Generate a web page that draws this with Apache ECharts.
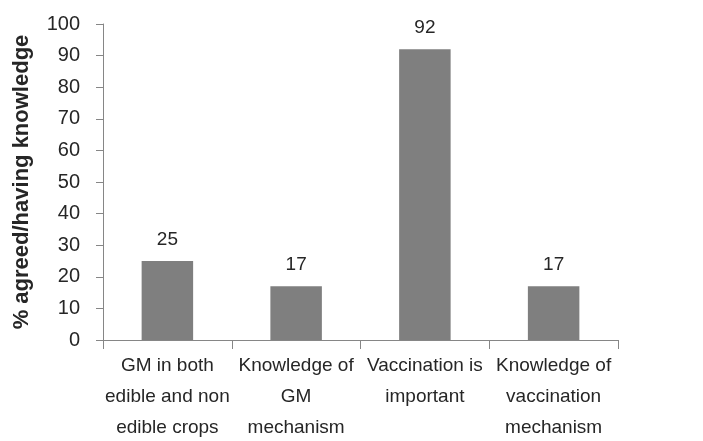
<!DOCTYPE html>
<html>
<head>
<meta charset="utf-8">
<script src="https://cdn.jsdelivr.net/npm/echarts@6/dist/echarts.min.js"></script>
<style>
  html, body { margin: 0; padding: 0; background: #fff; }
  #chart { width: 703px; height: 441px; }
</style>
</head>
<body>
<div id="chart"></div>
<script>
const categories = [
    'GM in both\nedible and non\nedible crops',
    'Knowledge of\nGM\nmechanism',
    'Vaccination is\nimportant',
    'Knowledge of\nvaccination\nmechanism'
];
const values = [25, 17, 92, 17];
const yTitle = '% agreed/having knowledge';

const chart = echarts.init(document.getElementById('chart'));
const fontFamily = '"Liberation Sans", Arial, sans-serif';
const axisColor = '#868686';

chart.setOption({
    animation: false,
    grid: { left: 103, right: 85, top: 24, bottom: 101, containLabel: false, outerBoundsMode: 'none' },
    xAxis: {
        type: 'category',
        data: categories,
        axisLine: { lineStyle: { color: axisColor } },
        axisTick: { show: true, length: 9, alignWithLabel: false, lineStyle: { color: axisColor } },
        axisLabel: {
            interval: 0,
            color: '#262626',
            fontFamily: fontFamily,
            fontSize: 19,
            lineHeight: 31,
            margin: 10
        }
    },
    yAxis: {
        type: 'value',
        min: 0,
        max: 100,
        interval: 10,
        name: yTitle,
        nameLocation: 'middle',
        nameGap: 70,
        nameTextStyle: {
            color: '#262626',
            fontFamily: fontFamily,
            fontSize: 22,
            fontWeight: 'bold'
        },
        axisLine: { show: true, lineStyle: { color: axisColor } },
        axisTick: { show: true, length: 7, lineStyle: { color: axisColor } },
        splitLine: { show: false },
        axisLabel: {
            color: '#262626',
            fontFamily: fontFamily,
            fontSize: 20,
            margin: 23
        }
    },
    series: [{
        type: 'bar',
        data: values,
        barWidth: '40%',
        itemStyle: { color: '#7f7f7f' },
        label: {
            show: true,
            position: 'top',
            distance: 12,
            color: '#262626',
            fontFamily: fontFamily,
            fontSize: 19
        }
    }]
});
</script>
</body>
</html>
